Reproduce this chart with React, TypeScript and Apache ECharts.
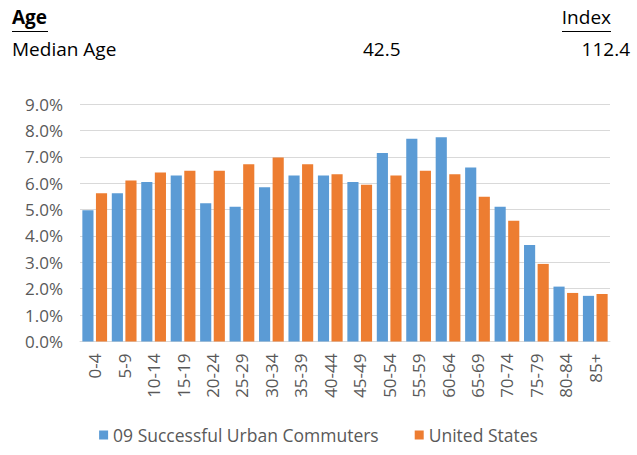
import React, { useEffect, useRef } from "react";
import * as echarts from "echarts";

const categories = ["0-4", "5-9", "10-14", "15-19", "20-24", "25-29", "30-34", "35-39", "40-44", "45-49", "50-54", "55-59", "60-64", "65-69", "70-74", "75-79", "80-84", "85+"];
const commuters = [4.97, 5.62, 6.04, 6.29, 5.24, 5.11, 5.85, 6.29, 6.29, 6.04, 7.14, 7.68, 7.74, 6.59, 5.11, 3.66, 2.08, 1.73];
const unitedStates = [5.62, 6.1, 6.4, 6.47, 6.47, 6.72, 6.97, 6.72, 6.34, 5.94, 6.29, 6.47, 6.34, 5.49, 4.58, 2.94, 1.84, 1.8];
const seriesNames = ["09 Successful Urban Commuters", "United States"];
const yMin = 0;
const yMax = 9;
const yInterval = 1;
const headerTitle = "Age";
const headerIndex = "Index";
const rowLabel = "Median Age";
const rowValue = "42.5";
const rowIndex = "112.4";

const FONT = "Open Sans";
const TEXT = "#595959";

export default function App() {
  const ref = useRef<HTMLDivElement>(null);
  useEffect(() => {
    if (!ref.current) return;
    const chart = echarts.init(ref.current, undefined, { renderer: "svg" });
    chart.setOption({
      animation: false,
      backgroundColor: "#ffffff",
      textStyle: { fontFamily: FONT },
      graphic: [
        { type: "text", left: 12, top: 7, style: { text: headerTitle, font: `bold 19px "${FONT}"`, fill: "#000" } },
        { type: "line", shape: { x1: 12, y1: 31.5, x2: 48, y2: 31.5 }, style: { stroke: "#000", lineWidth: 1.2 } },
        { type: "text", right: 26, top: 7, style: { text: headerIndex, font: `19px "${FONT}"`, fill: "#000" } },
        { type: "line", shape: { x1: 562, y1: 31.5, x2: 611, y2: 31.5 }, style: { stroke: "#000", lineWidth: 1.2 } },
        { type: "text", left: 12, top: 39, style: { text: rowLabel, font: `19px "${FONT}"`, fill: "#000" } },
        { type: "text", left: 363, top: 39, style: { text: rowValue, font: `19px "${FONT}"`, fill: "#000" } },
        { type: "text", right: 7, top: 39, style: { text: rowIndex, font: `19px "${FONT}"`, fill: "#000" } },
      ],
      grid: { left: 80, right: 27, top: 104, bottom: 113.5, containLabel: false },
      legend: {
        bottom: 6,
        left: "center",
        itemWidth: 9,
        itemHeight: 9,
        itemGap: 36,
        icon: "rect",
        textStyle: { color: TEXT, fontSize: 17.5, fontFamily: FONT },
        data: seriesNames,
      },
      xAxis: {
        type: "category",
        data: categories,
        axisLine: { lineStyle: { color: "#D9D9D9" } },
        axisTick: { show: false },
        axisLabel: { rotate: 90, color: TEXT, fontSize: 17, fontFamily: FONT, margin: 12, interval: 0 },
      },
      yAxis: {
        type: "value",
        min: yMin,
        max: yMax,
        interval: yInterval,
        axisLine: { show: false },
        axisTick: { show: false },
        splitLine: { lineStyle: { color: "#D9D9D9", width: 1 } },
        axisLabel: { color: TEXT, fontSize: 17, fontFamily: FONT, margin: 17, formatter: (v: number) => v.toFixed(1) + "%" },
      },
      series: [
        { name: seriesNames[0], type: "bar", data: commuters, itemStyle: { color: "#5B9BD5" }, barGap: "22%", barCategoryGap: "16%" },
        { name: seriesNames[1], type: "bar", data: unitedStates, itemStyle: { color: "#ED7D31" }, barGap: "22%", barCategoryGap: "16%" },
      ],
    });
    return () => chart.dispose();
  }, []);
  return <div ref={ref} style={{ position: "fixed", left: 0, top: 0, width: 637, height: 455 }} />;
}
